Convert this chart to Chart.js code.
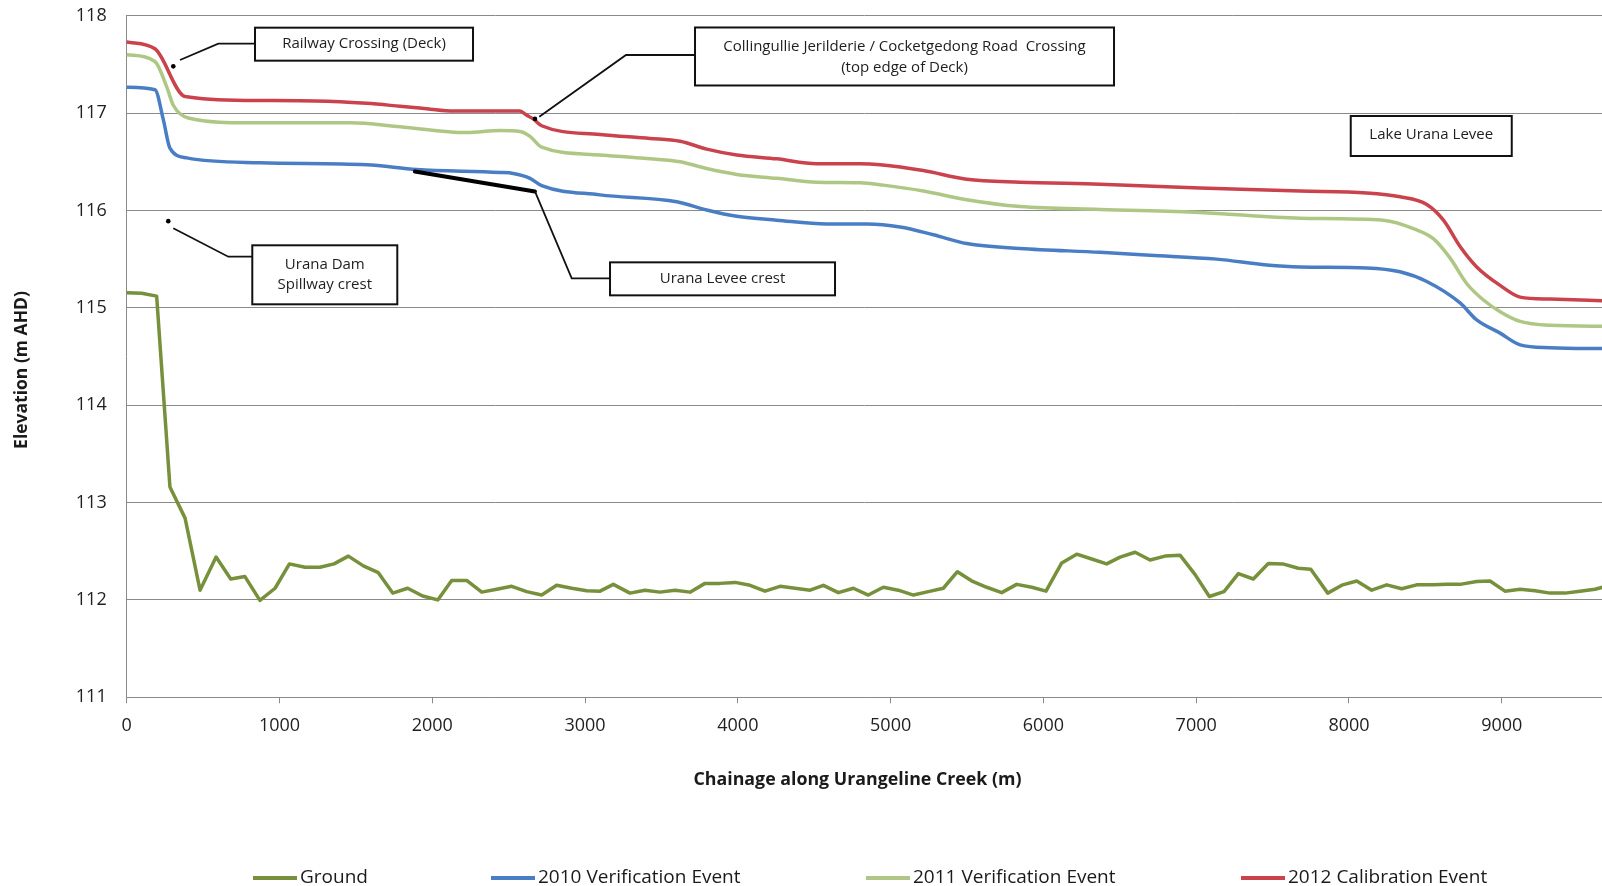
<!DOCTYPE html>
<html>
<head>
<meta charset="utf-8">
<title>Urangeline Creek longitudinal profile</title>
<script src="https://cdn.jsdelivr.net/npm/chart.js@4.4.1/dist/chart.umd.min.js"></script>
<style>
  html, body { margin: 0; padding: 0; background: #ffffff; }
  canvas { display: block; }
</style>
</head>
<body>
<canvas id="profile" width="1602" height="886"></canvas>
<script>
// ---- Axis ticks ----
const chainageTicks = [0, 1000, 2000, 3000, 4000, 5000, 6000, 7000, 8000, 9000];
const elevationTicks = [111, 112, 113, 114, 115, 116, 117, 118];

// ---- Ground (bed) profile ----
const groundChainage = [0, 98, 196, 283, 382, 480, 585, 681, 774, 872, 971, 1065, 1167, 1265, 1357, 1451, 1549, 1647, 1741, 1839, 1937, 2036, 2127, 2225, 2324, 2422, 2520, 2618, 2716, 2814, 2913, 3011, 3098, 3185, 3294, 3392, 3490, 3589, 3687, 3785, 3883, 3982, 4080, 4178, 4276, 4375, 4473, 4560, 4658, 4756, 4854, 4952, 5050, 5149, 5247, 5345, 5437, 5537, 5629, 5727, 5825, 5924, 6017, 6120, 6218, 6316, 6414, 6502, 6600, 6698, 6796, 6894, 6993, 7086, 7182, 7276, 7374, 7472, 7566, 7668, 7750, 7861, 7959, 8051, 8149, 8247, 8345, 8443, 8552, 8640, 8727, 8836, 8923, 9021, 9120, 9218, 9316, 9414, 9512, 9610, 9708];
const groundLevel = [115.155, 115.15, 115.12, 113.16, 112.84, 112.10, 112.44, 112.215, 112.24, 111.995, 112.12, 112.37, 112.335, 112.335, 112.37, 112.45, 112.35, 112.28, 112.07, 112.12, 112.04, 112.00, 112.20, 112.20, 112.08, 112.11, 112.14, 112.085, 112.05, 112.15, 112.12, 112.095, 112.09, 112.16, 112.07, 112.10, 112.08, 112.10, 112.08, 112.17, 112.17, 112.18, 112.15, 112.09, 112.14, 112.12, 112.10, 112.15, 112.075, 112.12, 112.05, 112.13, 112.10, 112.05, 112.085, 112.12, 112.29, 112.19, 112.13, 112.075, 112.16, 112.13, 112.09, 112.38, 112.47, 112.42, 112.37, 112.44, 112.49, 112.41, 112.45, 112.46, 112.26, 112.035, 112.085, 112.27, 112.215, 112.375, 112.37, 112.325, 112.315, 112.07, 112.155, 112.195, 112.10, 112.155, 112.115, 112.155, 112.155, 112.16, 112.16, 112.19, 112.195, 112.09, 112.11, 112.095, 112.07, 112.07, 112.09, 112.11, 112.15];

// ---- Peak water levels, 2010 verification event ----
const wl2010Chainage = [0, 185, 240, 283, 393, 873, 1571, 1898, 2443, 2530, 2640, 2716, 3098, 3600, 3796, 3993, 4255, 4582, 4844, 5062, 5280, 5498, 5847, 6371, 6698, 7134, 7462, 7680, 8116, 8334, 8509, 8727, 8836, 8989, 9120, 9316, 9700];
const wl2010Level = [117.265, 117.24, 116.93, 116.64, 116.54, 116.49, 116.47, 116.42, 116.39, 116.38, 116.33, 116.255, 116.16, 116.09, 116.005, 115.94, 115.90, 115.86, 115.86, 115.83, 115.75, 115.66, 115.61, 115.57, 115.54, 115.50, 115.44, 115.42, 115.41, 115.37, 115.27, 115.05, 114.875, 114.74, 114.62, 114.59, 114.58];

// ---- Peak water levels, 2011 verification event ----
const wl2011Chainage = [0, 185, 262, 305, 403, 807, 1462, 1789, 2225, 2443, 2574, 2640, 2716, 3098, 3425, 3622, 3796, 3993, 4255, 4516, 4800, 4952, 5214, 5498, 5847, 6371, 7025, 7680, 8225, 8443, 8552, 8662, 8770, 8880, 8989, 9120, 9316, 9700];
const wl2011Level = [117.60, 117.53, 117.27, 117.08, 116.95, 116.90, 116.90, 116.86, 116.80, 116.82, 116.81, 116.76, 116.65, 116.57, 116.53, 116.50, 116.43, 116.37, 116.33, 116.29, 116.285, 116.26, 116.20, 116.11, 116.04, 116.01, 115.98, 115.92, 115.90, 115.80, 115.71, 115.51, 115.25, 115.08, 114.96, 114.86, 114.82, 114.81];

// ---- Peak water levels, 2012 calibration event ----
const wl2012Chainage = [0, 185, 382, 807, 1352, 1571, 1789, 1964, 2138, 2443, 2574, 2616, 2661, 2716, 3098, 3425, 3622, 3796, 3993, 4255, 4516, 4669, 4800, 4931, 5214, 5498, 5847, 6371, 7025, 7680, 8116, 8334, 8509, 8618, 8727, 8836, 8989, 9120, 9316, 9700];
const wl2012Level = [117.73, 117.66, 117.17, 117.13, 117.12, 117.10, 117.07, 117.045, 117.02, 117.02, 117.02, 116.98, 116.94, 116.87, 116.78, 116.74, 116.71, 116.63, 116.57, 116.53, 116.48, 116.48, 116.48, 116.47, 116.41, 116.32, 116.29, 116.27, 116.23, 116.20, 116.18, 116.14, 116.06, 115.90, 115.63, 115.42, 115.23, 115.11, 115.09, 115.07];

// ---- Surveyed structure levels ----
const railwayDeckChainage = [305];
const railwayDeckLevel = [117.48];
const spillwayCrestChainage = [272];
const spillwayCrestLevel = [115.89];
const roadDeckChainage = [2672];
const roadDeckLevel = [116.94];
const leveeCrestChainage = [1886, 2672];
const leveeCrestLevel = [116.40, 116.195];

const seriesNames = ['Ground', '2010 Verification Event', '2011 Verification Event', '2012 Calibration Event'];

const toPoints = (xs, ys) => xs.map((x, i) => ({ x: x, y: ys[i] }));

// ---- Callout boxes (anchored in chainage / elevation) ----
const callouts = [
  { lines: ['Railway Crossing (Deck)'], ch: 839.8, el: 117.877, w: 218, h: 33, textY: [16.5],
    leader: { dy: 16, elbowCh: 599.6, endCh: 348.9, endEl: 117.545 } },
  { lines: ['Collingullie Jerilderie / Cocketgedong Road  Crossing', '(top edge of Deck)'], ch: 3719.7, el: 117.879, w: 419, h: 58, textY: [19.2, 40.2],
    leader: { dy: 27.5, elbowCh: 3268, endCh: 2700.6, endEl: 116.963 } },
  { lines: ['Urana Levee crest'], ch: 3163.4, el: 115.467, w: 225, h: 33, textY: [16.5],
    leader: { dy: 16, elbowCh: 2912.7, endCh: 2672, endEl: 116.195 } },
  { lines: ['Urana Dam', 'Spillway crest'], ch: 822, el: 115.642, w: 145, h: 59, textY: [19.7, 39.7],
    leader: { dy: 11.4, elbowCh: 665, endCh: 305, endEl: 115.817 } },
  { lines: ['Lake Urana Levee'], ch: 8011.5, el: 116.970, w: 161, h: 40, textY: [18.5], leader: null }
];

const calloutPlugin = {
  id: 'callouts',
  afterDatasetsDraw(chart) {
    const ctx = chart.ctx;
    const xs = chart.scales.x, ys = chart.scales.y;
    ctx.save();
    ctx.font = '15px "Open Sans", sans-serif';
    ctx.textAlign = 'center';
    ctx.textBaseline = 'middle';
    for (const c of callouts) {
      const left = xs.getPixelForValue(c.ch);
      const top = ys.getPixelForValue(c.el);
      if (c.leader) {
        const ly = top + c.leader.dy;
        ctx.beginPath();
        ctx.moveTo(left, ly);
        ctx.lineTo(xs.getPixelForValue(c.leader.elbowCh), ly);
        ctx.lineTo(xs.getPixelForValue(c.leader.endCh), ys.getPixelForValue(c.leader.endEl));
        ctx.strokeStyle = '#111111';
        ctx.lineWidth = 1.8;
        ctx.stroke();
      }
      ctx.fillStyle = '#ffffff';
      ctx.fillRect(left, top, c.w, c.h);
      ctx.strokeStyle = '#111111';
      ctx.lineWidth = 2;
      ctx.strokeRect(left, top, c.w, c.h);
      ctx.fillStyle = '#1e1e1e';
      c.lines.forEach((t, i) => ctx.fillText(t, left + c.w / 2, top + c.textY[i]));
    }
    ctx.restore();
  }
};

// ---- Axis titles and bottom legend ----
const legendSlots = [253, 491, 866, 1241];
const framePlugin = {
  id: 'frame',
  afterDraw(chart) {
    const ctx = chart.ctx;
    ctx.save();
    ctx.fillStyle = '#1a1a1a';
    ctx.textAlign = 'center';
    ctx.textBaseline = 'middle';
    ctx.font = 'bold 17.8px "Open Sans", sans-serif';
    ctx.fillText('Chainage along Urangeline Creek (m)', 857.5, 780);
    ctx.save();
    ctx.translate(22.5, 370);
    ctx.rotate(-Math.PI / 2);
    ctx.font = 'bold 17.5px "Open Sans", sans-serif';
    ctx.fillText('Elevation (m AHD)', 0, 0);
    ctx.restore();

    const legendY = 878;
    ctx.font = '19px "Open Sans", sans-serif';
    ctx.textAlign = 'left';
    chart.data.datasets.filter(d => d.showInKey).forEach((d, i) => {
      const x0 = legendSlots[i];
      ctx.beginPath();
      ctx.moveTo(x0, legendY);
      ctx.lineTo(x0 + 44, legendY);
      ctx.strokeStyle = d.borderColor;
      ctx.lineWidth = 4;
      ctx.stroke();
      ctx.fillStyle = '#1a1a1a';
      ctx.fillText(d.label, x0 + 47, legendY);
    });
    ctx.restore();
  }
};

const gridGrey = '#8a8a8a';
const tickFont = { family: '"Open Sans", sans-serif', size: 18 };

new Chart(document.getElementById('profile'), {
  type: 'line',
  data: {
    datasets: [
      { label: 'Railway Crossing (Deck)', data: toPoints(railwayDeckChainage, railwayDeckLevel), showLine: false,
        pointRadius: 2.3, pointBackgroundColor: '#000', pointBorderWidth: 0, borderColor: '#000', showInKey: false },
      { label: 'Urana Dam Spillway crest', data: toPoints(spillwayCrestChainage, spillwayCrestLevel), showLine: false,
        pointRadius: 2.3, pointBackgroundColor: '#000', pointBorderWidth: 0, borderColor: '#000', showInKey: false },
      { label: 'Road Crossing (top edge of Deck)', data: toPoints(roadDeckChainage, roadDeckLevel), showLine: false,
        pointRadius: 2.3, pointBackgroundColor: '#000', pointBorderWidth: 0, borderColor: '#000', showInKey: false },
      { label: 'Urana Levee crest', data: toPoints(leveeCrestChainage, leveeCrestLevel),
        borderColor: '#000000', borderWidth: 4, pointRadius: 0, showInKey: false },
      { label: seriesNames[0], data: toPoints(groundChainage, groundLevel),
        borderColor: '#77903b', borderWidth: 3.5, pointRadius: 0, tension: 0, showInKey: true },
      { label: seriesNames[1], data: toPoints(wl2010Chainage, wl2010Level),
        borderColor: '#4a7ec4', borderWidth: 3.5, pointRadius: 0, cubicInterpolationMode: 'monotone', showInKey: true },
      { label: seriesNames[2], data: toPoints(wl2011Chainage, wl2011Level),
        borderColor: '#afc785', borderWidth: 3.5, pointRadius: 0, cubicInterpolationMode: 'monotone', showInKey: true },
      { label: seriesNames[3], data: toPoints(wl2012Chainage, wl2012Level),
        borderColor: '#c9424c', borderWidth: 3.5, pointRadius: 0, cubicInterpolationMode: 'monotone', showInKey: true }
    ]
  },
  options: {
    responsive: false,
    animation: false,
    devicePixelRatio: 1,
    layout: { autoPadding: false, padding: { top: 15.7, left: 0, right: 0, bottom: 0 } },
    plugins: { legend: { display: false }, tooltip: { enabled: false } },
    elements: { line: { fill: false, borderCapStyle: 'round', borderJoinStyle: 'round' } },
    scales: {
      x: {
        type: 'linear', min: 0, max: 9656,
        afterBuildTicks: s => { s.ticks = chainageTicks.map(v => ({ value: v })); },
        afterFit: s => { s.height = 188.7; },
        grid: { drawOnChartArea: false, drawTicks: true, tickLength: 6, color: gridGrey },
        border: { display: true, color: gridGrey, width: 1 },
        ticks: { font: tickFont, color: '#1f1f1f', padding: 12, maxRotation: 0, autoSkip: false,
                 callback: v => String(v) }
      },
      y: {
        type: 'linear', min: 111, max: 118,
        afterBuildTicks: s => { s.ticks = elevationTicks.map(v => ({ value: v })); },
        afterFit: s => { s.width = 126.7; },
        grid: { color: gridGrey, drawTicks: true, tickLength: 20, tickColor: 'rgba(0,0,0,0)', lineWidth: 1 },
        border: { display: true, color: gridGrey, width: 1 },
        ticks: { font: tickFont, color: '#1f1f1f', padding: 0, callback: v => String(v) }
      }
    }
  },
  plugins: [calloutPlugin, framePlugin]
});
</script>
</body>
</html>
